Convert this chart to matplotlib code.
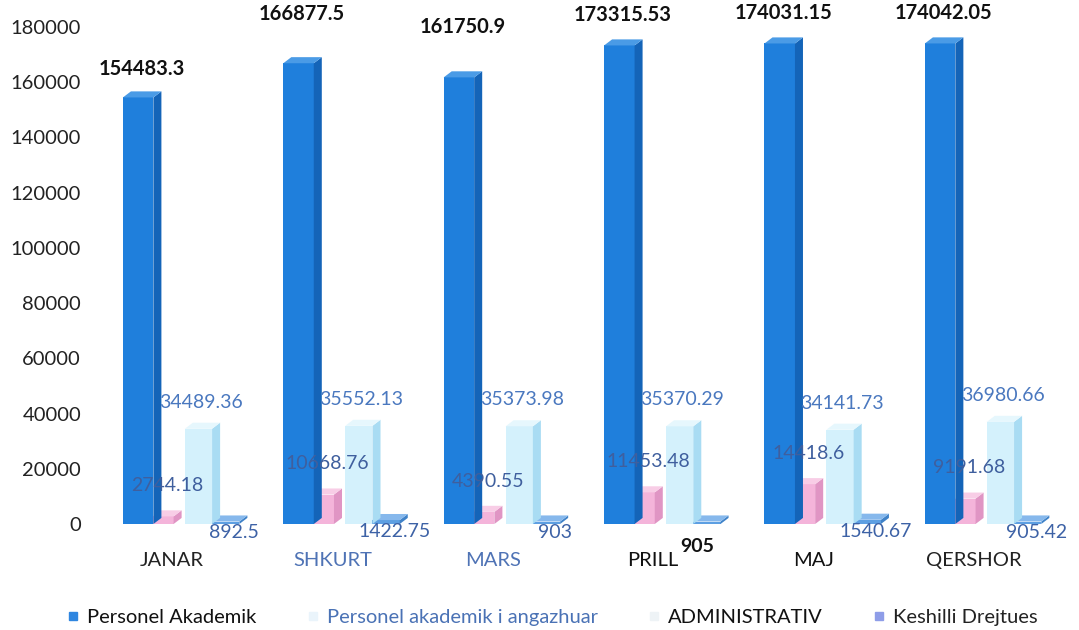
import matplotlib.pyplot as plt
from matplotlib.patches import Polygon
from matplotlib.lines import Line2D

plt.rcParams['font.family'] = ['Lato', 'DejaVu Sans']

# Data
months = ["JANAR", "SHKURT", "MARS", "PRILL", "MAJ", "QERSHOR"]
akademik = [154483.3, 166877.5, 161750.9, 173315.53, 174031.15, 174042.05]
angazhuar = [2744.18, 10668.76, 4390.55, 11453.48, 14418.6, 9191.68]
administrativ = [34489.36, 35552.13, 35373.98, 35370.29, 34141.73, 36980.66]
keshilli = [892.5, 1422.75, 903, 905, 1540.67, 905.42]

series_names = ["Personel Akademik", "Personel akademik i angazhuar",
                "ADMINISTRATIV", "Keshilli Drejtues"]

fig = plt.figure(figsize=(10.79, 6.3), dpi=100)
ax = fig.add_axes([95 / 1079, 106 / 630, 980 / 1079, 497 / 630])

x = range(len(months))

# (values, offset, width, front, side, top, zorder)
styles = [
    (akademik, -0.291, 0.19, "#1f7fdc", "#1464b8", "#4a9be6", 5),
    (angazhuar, -0.135, 0.13, "#f4b4da", "#e095c4", "#f8cde6", 3),
    (administrativ, 0.085, 0.17, "#d4f1fc", "#a9dcf3", "#e6f7fd", 4),
    (keshilli, 0.255, 0.17, "#5d9fe2", "#3f82c8", "#86b8ec", 2),
]

dx = 0.05
dy = 2200

for vals, off, w, c_front, c_side, c_top, z in styles:
    for i, v in zip(x, vals):
        x0 = i + off - w / 2
        x1 = x0 + w
        ax.bar(i + off, v, width=w, color=c_front, zorder=z, linewidth=0)
        ax.add_patch(Polygon([(x1, 0), (x1 + dx, dy), (x1 + dx, v + dy), (x1, v)],
                             closed=True, color=c_side, zorder=z, linewidth=0))
        ax.add_patch(Polygon([(x0, v), (x0 + dx, v + dy), (x1 + dx, v + dy), (x1, v)],
                             closed=True, color=c_top, zorder=z, linewidth=0))

# value labels (vertical offsets in points, as placed in the original)
akad_lift = [13, 28, 29, 15, 15, 15]
for i, v in zip(x, akademik):
    ax.annotate(str(v), (i - 0.27, v), xytext=(0, akad_lift[i]),
                textcoords="offset points", ha="center", va="bottom",
                fontsize=14.5, fontweight="bold", color="#111111", zorder=10)
for i, v in zip(x, angazhuar):
    ax.annotate(str(v), (i - 0.11, v), xytext=(0, 16), textcoords="offset points",
                ha="center", va="bottom", fontsize=14, color="#3f5f9e", zorder=10)
for i, v in zip(x, administrativ):
    ax.annotate(f"{v:.2f}", (i + 0.10, v), xytext=(0, 13), textcoords="offset points",
                ha="center", va="bottom", fontsize=14, color="#4a78bf", zorder=10)
for i, v in zip(x, keshilli):
    bold = months[i] == "PRILL"
    ax.annotate(str(v), (i + 0.29, v), xytext=(-11 if bold else 2, -12 if bold else -2),
                textcoords="offset points", ha="center", va="top",
                fontsize=14, color="#111111" if bold else "#3d62a6",
                fontweight="bold" if bold else "normal", zorder=10)

ax.set_xlim(-0.56, 5.55)
ax.set_ylim(0, 180000)
ax.set_yticks(range(0, 180001, 20000))
ax.set_yticklabels([str(t) for t in range(0, 180001, 20000)], fontsize=14.5,
                   color="#222222")
ax.set_xticks([i - 0.08 for i in x])
ax.set_xticklabels(months, fontsize=14.5)
label_colors = ["#222222", "#4f73b5", "#4f73b5", "#111111", "#111111", "#222222"]
for lbl, c in zip(ax.get_xticklabels(), label_colors):
    lbl.set_color(c)
ax.tick_params(length=0, axis="y", pad=10)
ax.tick_params(length=0, axis="x", pad=20)
for s in ax.spines.values():
    s.set_visible(False)

handles = [
    Line2D([], [], marker="s", linestyle="", markersize=6, color="#2f86e0"),
    Line2D([], [], marker="s", linestyle="", markersize=6, color="#eaf4fb"),
    Line2D([], [], marker="s", linestyle="", markersize=6, color="#eef3f6"),
    Line2D([], [], marker="s", linestyle="", markersize=6, color="#8e9de8"),
]
leg = fig.legend(handles, series_names, loc="lower center", ncol=4, frameon=False,
                 bbox_to_anchor=(0.51, -0.022), fontsize=14.5, columnspacing=2.3,
                 handletextpad=0.2, handlelength=1.0)
for t, c in zip(leg.get_texts(), ["#111111", "#4a72b5", "#111111", "#222222"]):
    t.set_color(c)

fig.savefig("out.png", dpi=100)
